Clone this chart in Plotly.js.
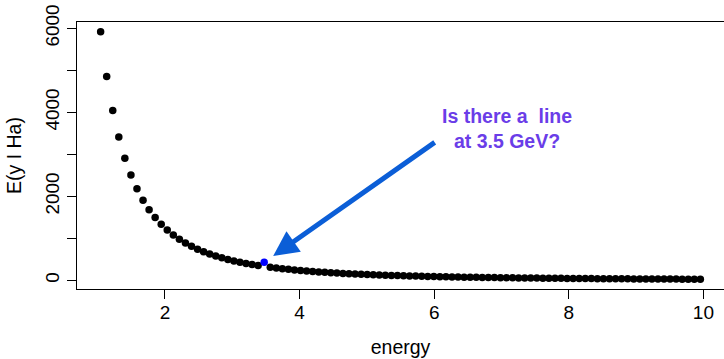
<!DOCTYPE html>
<html><head><meta charset="utf-8">
<script src="https://cdn.plot.ly/plotly-3.0.1.min.js"></script>
<style>html,body{margin:0;padding:0;overflow:hidden;background:#fff}#chart{width:724px;height:359px}</style>
</head><body><div id="chart"></div>
<script>
// energy bins (x) and E(y I Ha) values (y)
const energy = [
  1.045,1.135,1.225,1.315,1.405,1.495,1.585,1.675,1.765,1.855,
  1.945,2.035,2.125,2.215,2.305,2.395,2.485,2.575,2.665,2.755,
  2.845,2.935,3.025,3.115,3.205,3.295,3.385,
  3.565,3.655,3.745,3.835,3.925,4.015,4.105,4.195,4.285,4.375,
  4.465,4.555,4.645,4.735,4.825,4.915,5.005,5.095,5.185,5.275,
  5.365,5.455,5.545,5.635,5.725,5.815,5.905,5.995,6.085,6.175,
  6.265,6.355,6.445,6.535,6.625,6.715,6.805,6.895,6.985,7.075,
  7.165,7.255,7.345,7.435,7.525,7.615,7.705,7.795,7.885,7.975,
  8.065,8.155,8.245,8.335,8.425,8.515,8.605,8.695,8.785,8.875,
  8.965,9.055,9.145,9.235,9.325,9.415,9.505,9.595,9.685,9.775,
  9.865,9.955
];
const flux = [
  5919,4854,4042,3409,2908,2506,2178,1907,1682,1493,
  1332,1195,1077,975,887,809,740,680,626,578,
  535,496,462,430,402,376,353,
  311,293,277,261,247,234,222,211,200,190,
  181,173,165,158,151,144,138,132,127,122,
  117,112,108,104,100,96,93,89,86,83,
  80,78,75,73,70,68,66,64,62,60,
  58,57,55,53,52,50,49,48,46,45,
  44,43,42,41,40,39,38,37,36,35,
  34,33,33,32,31,30,30,29,28,28,
  27,27
];
// the highlighted bin
const lineEnergy = [3.475];
const lineFlux = [429];

const xTicks = [2, 4, 6, 8, 10];
const yTicks = [0, 2000, 4000, 6000];
const yMinorTicks = [1000, 3000, 5000];

const annoText = 'Is there a\u00a0 line<br>at 3.5 GeV?';

const FONT = 'Liberation Sans, Arial, Helvetica, sans-serif';

const traces = [
  {x: energy, y: flux, type: 'scatter', mode: 'markers',
   marker: {color: '#000000', size: 7.5}, hoverinfo: 'skip'},
  {x: lineEnergy, y: lineFlux, type: 'scatter', mode: 'markers',
   marker: {color: '#0000ff', size: 7.5}, hoverinfo: 'skip'}
];

const layout = {
  width: 724, height: 359,
  margin: {l: 77, r: 0, t: 22, b: 70},
  paper_bgcolor: '#fff', plot_bgcolor: '#fff',
  showlegend: false,
  font: {family: FONT, color: '#000', size: 19},
  xaxis: {
    range: [0.694, 10.306], tickvals: xTicks, ticktext: xTicks.map(String),
    showline: true, mirror: true, linecolor: '#000', linewidth: 1,
    ticks: 'outside', ticklen: 9, tickcolor: '#000', tickwidth: 1,
    ticklabelstandoff: -3,
    showgrid: false, zeroline: false,
    tickfont: {size: 19},
    title: {text: 'energy', font: {size: 19.5}, standoff: 18}
  },
  yaxis: {
    range: [-207, 6150], tickvals: yTicks.concat(yMinorTicks),
    ticktext: yTicks.map(String).concat(yMinorTicks.map(() => '')),
    tickangle: -90,
    showline: true, mirror: true, linecolor: '#000', linewidth: 1,
    ticks: 'outside', ticklen: 9, tickcolor: '#000', tickwidth: 1,
    showgrid: false, zeroline: false,
    tickfont: {size: 19},
    title: {text: 'E(y I Ha)', font: {size: 19.5}, standoff: 15}
  },
  annotations: [
    {x: lineEnergy[0], y: lineFlux[0], xref: 'x', yref: 'y',
     ax: 172, ay: -121, axref: 'pixel', ayref: 'pixel',
     showarrow: true, arrowhead: 2, arrowsize: 1, arrowwidth: 5,
     arrowcolor: '#0b5ed7', standoff: 11, text: ''},
    {x: 0.665, y: 0.60, xref: 'paper', yref: 'paper',
     text: '<b>' + annoText + '</b>', showarrow: false,
     font: {family: FONT, size: 19.5, color: '#6a3de8'}, align: 'center'}
  ]
};

Plotly.newPlot('chart', traces, layout, {staticPlot: true, displayModeBar: false});
</script>
</body></html>
